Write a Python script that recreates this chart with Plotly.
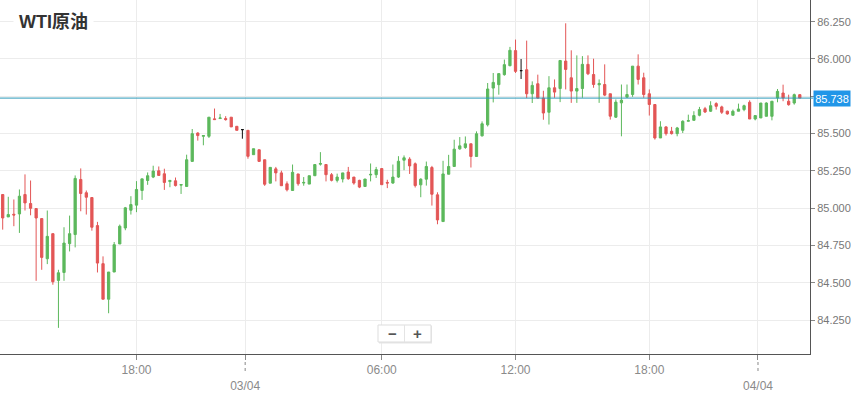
import plotly.graph_objects as go

# ---- data (15-minute candles, index positions on a gap-free time axis) ----
open_ = [85.092, 84.942, 84.960, 84.962, 85.092, 85.032, 84.998, 84.931, 84.662, 84.830,
         84.517, 84.570, 84.763, 84.824, 85.193, 85.104, 85.072, 84.884, 84.629, 84.391,
         84.573, 84.761, 84.868, 84.987, 85.021, 85.119, 85.186, 85.209, 85.251, 85.231,
         85.179, 85.184, 85.155, 85.146, 85.314, 85.504, 85.482, 85.482, 85.599, 85.601,
         85.601, 85.610, 85.549, 85.527, 85.522, 85.359, 85.392, 85.325, 85.168, 85.264,
         85.237, 85.164, 85.119, 85.230, 85.169, 85.162, 85.218, 85.295, 85.293, 85.225,
         85.187, 85.196, 85.243, 85.209, 85.187, 85.146, 85.223, 85.225, 85.266, 85.173,
         85.169, 85.209, 85.322, 85.329, 85.298, 85.157, 85.195, 85.273, 85.090, 84.911,
         85.228, 85.280, 85.398, 85.407, 85.432, 85.347, 85.485, 85.559, 85.805, 85.828,
         85.895, 85.955, 86.056, 85.922, 85.928, 85.767, 85.834, 85.738, 85.643, 85.807,
         85.802, 85.986, 85.874, 85.785, 85.802, 85.964, 85.896, 85.827, 85.829, 85.767,
         85.610, 85.706, 85.744, 85.762, 85.952, 85.874, 85.767, 85.695, 85.471, 85.545,
         85.516, 85.500, 85.522, 85.583, 85.589, 85.623, 85.667, 85.650, 85.701, 85.679,
         85.650, 85.623, 85.650, 85.661, 85.710, 85.598, 85.605, 85.616, 85.616, 85.739,
         85.772, 85.717, 85.705, 85.761]
high = [85.092, 85.077, 85.059, 85.126, 85.227, 85.186, 85.000, 84.931, 84.985, 84.830,
        84.588, 84.873, 84.951, 85.220, 85.267, 85.119, 85.072, 84.909, 84.678, 84.573,
        84.774, 84.891, 85.009, 85.081, 85.182, 85.197, 85.240, 85.285, 85.280, 85.265,
        85.191, 85.206, 85.161, 85.359, 85.531, 85.509, 85.489, 85.610, 85.668, 85.632,
        85.617, 85.610, 85.549, 85.527, 85.522, 85.399, 85.392, 85.325, 85.274, 85.277,
        85.252, 85.180, 85.293, 85.230, 85.209, 85.218, 85.293, 85.376, 85.293, 85.236,
        85.232, 85.237, 85.277, 85.209, 85.191, 85.196, 85.300, 85.277, 85.266, 85.191,
        85.293, 85.349, 85.354, 85.342, 85.307, 85.201, 85.313, 85.284, 85.107, 85.318,
        85.358, 85.459, 85.477, 85.481, 85.432, 85.515, 85.582, 85.839, 85.906, 85.902,
        85.996, 86.081, 86.130, 86.000, 86.123, 85.850, 85.895, 85.787, 85.885, 85.863,
        85.990, 86.239, 86.058, 86.024, 86.019, 86.024, 86.002, 85.863, 85.964, 85.767,
        85.729, 85.829, 85.829, 85.952, 86.031, 85.908, 85.796, 85.695, 85.583, 85.550,
        85.545, 85.545, 85.589, 85.627, 85.650, 85.679, 85.679, 85.717, 85.710, 85.687,
        85.654, 85.661, 85.701, 85.694, 85.723, 85.621, 85.705, 85.710, 85.717, 85.799,
        85.828, 85.761, 85.768, 85.763]
low = [84.857, 84.942, 84.880, 84.835, 84.985, 84.953, 84.514, 84.588, 84.626, 84.488,
       84.199, 84.514, 84.711, 84.738, 84.980, 84.958, 84.850, 84.570, 84.391, 84.297,
       84.573, 84.761, 84.853, 84.958, 84.974, 85.056, 85.157, 85.202, 85.218, 85.123,
       85.141, 85.146, 85.096, 85.146, 85.314, 85.453, 85.422, 85.471, 85.594, 85.601,
       85.587, 85.545, 85.522, 85.466, 85.332, 85.359, 85.314, 85.150, 85.168, 85.180,
       85.151, 85.113, 85.119, 85.151, 85.151, 85.162, 85.218, 85.286, 85.180, 85.180,
       85.173, 85.173, 85.191, 85.158, 85.135, 85.146, 85.180, 85.203, 85.158, 85.135,
       85.164, 85.203, 85.255, 85.230, 85.139, 85.074, 85.152, 85.018, 84.893, 84.911,
       85.228, 85.280, 85.392, 85.398, 85.273, 85.347, 85.481, 85.548, 85.709, 85.761,
       85.888, 85.951, 85.906, 85.866, 85.738, 85.705, 85.734, 85.593, 85.561, 85.740,
       85.711, 85.796, 85.706, 85.706, 85.740, 85.892, 85.807, 85.706, 85.751, 85.594,
       85.605, 85.482, 85.740, 85.746, 85.829, 85.740, 85.621, 85.460, 85.471, 85.487,
       85.494, 85.482, 85.504, 85.583, 85.589, 85.616, 85.638, 85.645, 85.661, 85.632,
       85.627, 85.623, 85.650, 85.650, 85.598, 85.589, 85.605, 85.616, 85.589, 85.710,
       85.717, 85.687, 85.694, 85.738]
close = [84.935, 84.958, 84.955, 85.081, 85.036, 85.000, 84.935, 84.671, 84.812, 84.508,
         84.568, 84.767, 84.830, 85.200, 85.099, 85.074, 84.873, 84.633, 84.391, 84.573,
         84.756, 84.880, 85.003, 85.025, 85.126, 85.197, 85.218, 85.249, 85.220, 85.173,
         85.186, 85.152, 85.159, 85.325, 85.500, 85.487, 85.487, 85.610, 85.594, 85.605,
         85.594, 85.545, 85.522, 85.527, 85.348, 85.399, 85.314, 85.161, 85.274, 85.237,
         85.151, 85.124, 85.241, 85.164, 85.173, 85.218, 85.293, 85.300, 85.225, 85.187,
         85.209, 85.237, 85.198, 85.169, 85.142, 85.196, 85.227, 85.259, 85.158, 85.169,
         85.209, 85.315, 85.338, 85.284, 85.152, 85.195, 85.280, 85.094, 84.922, 85.230,
         85.280, 85.396, 85.418, 85.432, 85.347, 85.499, 85.566, 85.799, 85.843, 85.902,
         85.962, 86.058, 85.917, 85.922, 85.767, 85.823, 85.738, 85.638, 85.807, 85.778,
         85.990, 85.930, 85.785, 85.802, 85.964, 85.901, 85.829, 85.836, 85.758, 85.617,
         85.711, 85.724, 85.762, 85.952, 85.863, 85.762, 85.695, 85.471, 85.545, 85.500,
         85.500, 85.538, 85.583, 85.587, 85.621, 85.661, 85.645, 85.687, 85.683, 85.643,
         85.632, 85.650, 85.665, 85.687, 85.598, 85.621, 85.705, 85.705, 85.717, 85.783,
         85.739, 85.694, 85.761, 85.738]

last_price = 85.738

hour_tick_pos = [24, 68, 92, 116]
hour_tick_text = ["18:00", "06:00", "12:00", "18:00"]
date_tick_pos = [43.5, 135.5]
date_tick_text = ["03/04", "04/04"]

y_ticks = [84.25, 84.50, 84.75, 85.00, 85.25, 85.50, 85.75, 86.00, 86.25]
y_tick_text = ["84.250", "84.500", "84.750", "85.000", "85.250", "85.500", "", "86.000", "86.250"]

GREEN = "#5cb85c"
RED = "#e35656"
DOJI = "#111111"
AXIS = "#555555"
GRID = "#ececec"

idx = list(range(len(open_)))
reg = [i for i in idx if open_[i] != close[i]]
doj = [i for i in idx if open_[i] == close[i]]

fig = go.Figure()
fig.add_trace(go.Candlestick(
    x=reg,
    open=[open_[i] for i in reg], high=[high[i] for i in reg],
    low=[low[i] for i in reg], close=[close[i] for i in reg],
    increasing=dict(line=dict(color=GREEN, width=1), fillcolor=GREEN),
    decreasing=dict(line=dict(color=RED, width=1), fillcolor=RED),
    whiskerwidth=0, hoverinfo="skip", showlegend=False,
))
fig.add_trace(go.Candlestick(
    x=doj,
    open=[open_[i] for i in doj], high=[high[i] for i in doj],
    low=[low[i] for i in doj], close=[close[i] for i in doj],
    increasing=dict(line=dict(color=DOJI, width=1), fillcolor=DOJI),
    decreasing=dict(line=dict(color=DOJI, width=1), fillcolor=DOJI),
    whiskerwidth=0, hoverinfo="skip", showlegend=False,
))

tickvals = hour_tick_pos + date_tick_pos
ticktext = hour_tick_text + ["<br>" + t for t in date_tick_text]

W, H = 851, 394
ML, MR, MT, MB = 0, 41, 0, 40
PW, PH = W - ML - MR, H - MT - MB

def px(xp):
    return xp / PW

def py(yp):
    return 1 - yp / PH

shapes = []
# dotted extension of date ticks
for p in date_tick_pos:
    shapes.append(dict(type="line", xref="x", yref="paper", x0=p, x1=p,
                       y0=-8 / PH, y1=-20 / PH,
                       line=dict(color="#888", width=1, dash="dot")))
# last price line
shapes.append(dict(type="line", xref="paper", yref="y", x0=0, x1=1.004,
                   y0=last_price, y1=last_price,
                   line=dict(color="#2a98b8", width=1)))
# zoom buttons box
shapes.append(dict(type="rect", xref="paper", yref="paper",
                   x0=px(379), x1=px(432), y0=py(343.5), y1=py(326),
                   fillcolor="#e6e6e6", line=dict(width=0), layer="above"))
shapes.append(dict(type="rect", xref="paper", yref="paper",
                   x0=px(378), x1=px(431), y0=py(342), y1=py(325),
                   fillcolor="#ffffff", line=dict(color="#dddddd", width=1), layer="above"))
shapes.append(dict(type="line", xref="paper", yref="paper",
                   x0=px(404.5), x1=px(404.5), y0=py(342), y1=py(325),
                   line=dict(color="#e4e4e4", width=1), layer="above"))

annotations = [
    dict(text="<b>WTI原油</b>", xref="paper", yref="paper", x=px(13), y=py(22),
         xanchor="left", yanchor="middle", showarrow=False,
         font=dict(size=18, color="#333333", family="Arial, 'Noto Sans CJK SC'"),
         bgcolor="#ffffff", borderpad=5),
    dict(text="%.3f" % last_price, xref="paper", yref="y", x=1, y=last_price,
         xanchor="left", yanchor="middle", xshift=3, showarrow=False,
         font=dict(size=11, color="#ffffff", family="Arial"),
         bgcolor="#2196e8", borderpad=1, width=34, height=13),
    dict(text="<b>−</b>", xref="paper", yref="paper", x=px(392), y=py(333.5),
         xanchor="center", yanchor="middle", showarrow=False,
         font=dict(size=15, color="#555555", family="Arial")),
    dict(text="<b>+</b>", xref="paper", yref="paper", x=px(417.5), y=py(333.5),
         xanchor="center", yanchor="middle", showarrow=False,
         font=dict(size=15, color="#555555", family="Arial")),
]

fig.update_layout(
    width=W, height=H,
    margin=dict(l=ML, r=MR, t=MT, b=MB, pad=0),
    paper_bgcolor="#ffffff", plot_bgcolor="#ffffff",
    boxgap=0.42,
    showlegend=False,
    shapes=shapes,
    annotations=annotations,
    xaxis=dict(
        range=[-0.484, 144.83], rangeslider=dict(visible=False),
        tickmode="array", tickvals=tickvals, ticktext=ticktext,
        showgrid=True, gridcolor=GRID, gridwidth=1, zeroline=False,
        showline=True, linecolor=AXIS, linewidth=1,
        ticks="outside", ticklen=5, tickcolor="#888", tickwidth=1,
        tickfont=dict(size=12, color="#8a8a8a", family="Arial"),
        fixedrange=True,
    ),
    yaxis=dict(
        side="right", range=[84.024, 86.395],
        tickmode="array", tickvals=y_ticks, ticktext=y_tick_text,
        showgrid=True, gridcolor=GRID, gridwidth=1, zeroline=False,
        showline=True, linecolor=AXIS, linewidth=1, mirror=False,
        ticks="outside", ticklen=4, tickcolor="#888", tickwidth=1,
        tickfont=dict(size=11, color="#777777", family="Arial"),
        fixedrange=True,
    ),
)

fig.write_html("out.html", config={"displayModeBar": False},
               post_script="document.body.style.margin='0';document.body.style.overflow='hidden';")
